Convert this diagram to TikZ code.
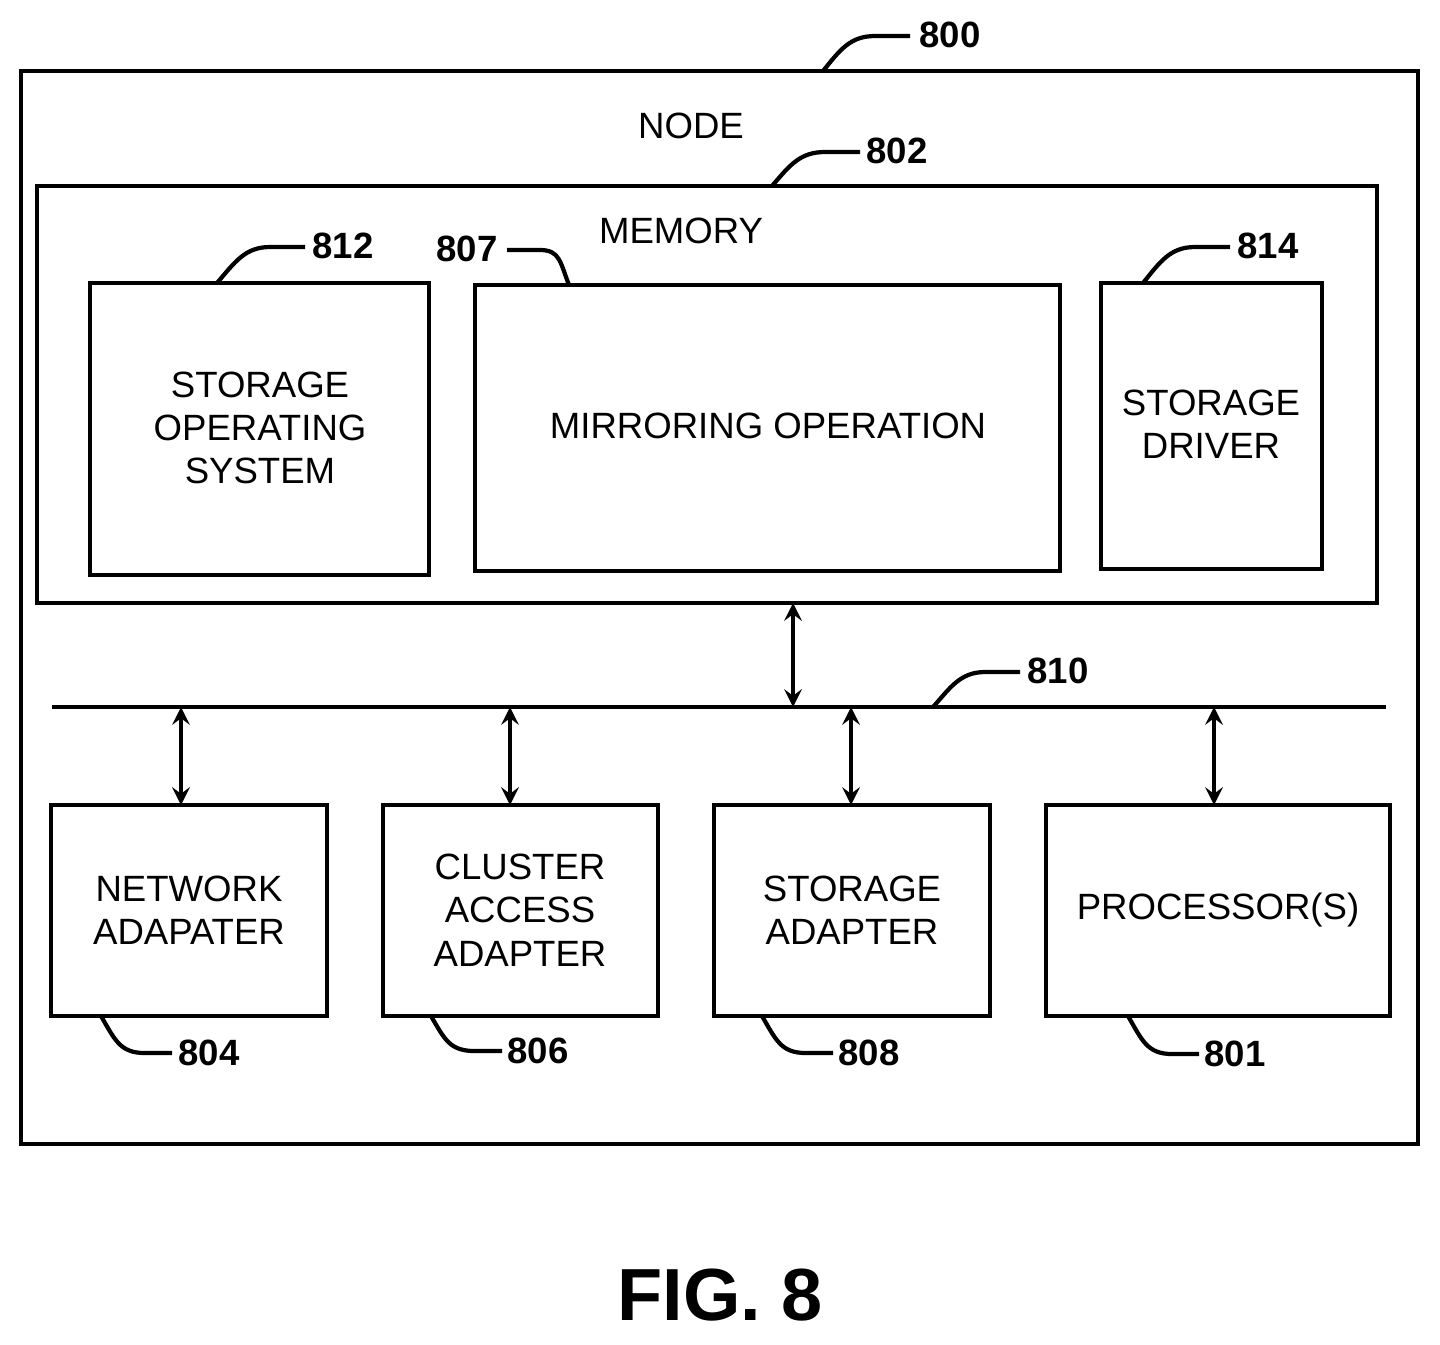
\documentclass[tikz,border=0pt]{standalone}
\usepackage{fontspec}
\setmainfont{Liberation Sans}
\usetikzlibrary{positioning}
\begin{document}
\begin{tikzpicture}[x=0.01cm,y=-0.01cm,
    box/.style={draw, line width=1.2pt, inner sep=0pt},
    txt/.style={align=center, font=\fontsize{10.4}{12.3}\selectfont},
    num/.style={font=\bfseries\fontsize{10.4}{12.3}\selectfont},
    arrow/.style={<->, line width=1.2pt, >=stealth},
    lead/.style={line width=1.2pt}
  ]
  \useasboundingbox (0,0) rectangle (1440,1344);

  % outer node box and memory
  \draw[box] (21,71) rectangle (1418,1144);
  \node[txt] (nodelbl) at (691,126) {NODE};
  \draw[box] (37,186) rectangle (1377,603);
  \node[txt] (memlbl) at (681,231) {MEMORY};

  % boxes inside memory
  \draw[box] (90,283) rectangle (429,575);
  \node[txt] (sos) at (260,428) {STORAGE\\OPERATING\\SYSTEM};
  \draw[box] (475,285) rectangle (1060,571);
  \node[txt] (mirror) at (768,426) {MIRRORING OPERATION};
  \draw[box] (1101,283) rectangle (1322,569);
  \node[txt] (sdrv) at (1211,424) {STORAGE\\DRIVER};

  % bus
  \coordinate (busl) at (52,707);
  \coordinate (busr) at (1386,707);
  \draw[lead] (busl) -- (busr);
  \coordinate (memb) at (793,603);
  \coordinate (busm) at (793,707);
  \draw[arrow] (memb) -- (busm);

  % adapters
  \draw[box] (51,805) rectangle (327,1016);
  \node[txt] (net) at (189,910) {NETWORK\\ADAPATER};
  \draw[box] (383,805) rectangle (658,1016);
  \node[txt] (cluster) at (520,910) {CLUSTER\\ACCESS\\ADAPTER};
  \draw[box] (714,805) rectangle (990,1016);
  \node[txt] (sadp) at (852,910) {STORAGE\\ADAPTER};
  \draw[box] (1046,805) rectangle (1390,1016);
  \node[txt] (proc) at (1218,910) {PROCESSOR(S)};

  \foreach \x in {181,510,851,1214}
    \draw[arrow] (\x,707) -- (\x,805);

  % reference numerals
  \draw[lead] (823,71) .. controls (840,50) and (850,36) .. (875,36) -- (910,36);
  \node[num] (n800) at (950,35) {800};
  \draw[lead] (772,186) .. controls (790,165) and (800,152) .. (825,152) -- (860,152);
  \node[num] (n802) at (897,151) {802};
  \draw[lead] (217,283) .. controls (235,262) and (245,247) .. (270,247) -- (305,247);
  \node[num] (n812) at (343,246) {812};
  \draw[lead] (569,285) .. controls (560,262) and (560,250) .. (540,250) -- (507,250);
  \node[num] (n807) at (467,249) {807};
  \draw[lead] (1143,283) .. controls (1160,262) and (1170,247) .. (1195,247) -- (1230,247);
  \node[num] (n814) at (1268,246) {814};
  \draw[lead] (933,707) .. controls (950,688) and (960,672) .. (985,672) -- (1020,672);
  \node[num] (n810) at (1058,671) {810};
  \draw[lead] (101,1016) .. controls (115,1040) and (120,1053) .. (145,1053) -- (172,1053);
  \node[num] (n804) at (209,1053) {804};
  \draw[lead] (431,1016) .. controls (445,1040) and (450,1051) .. (475,1051) -- (502,1051);
  \node[num] (n806) at (538,1051) {806};
  \draw[lead] (762,1016) .. controls (776,1040) and (781,1053) .. (806,1053) -- (833,1053);
  \node[num] (n808) at (869,1053) {808};
  \draw[lead] (1128,1016) .. controls (1142,1040) and (1147,1054) .. (1172,1054) -- (1199,1054);
  \node[num] (n801) at (1235,1054) {801};

  \node[font=\bfseries\fontsize{21}{24}\selectfont] (fig) at (720,1295) {FIG. 8};
\end{tikzpicture}
\end{document}
